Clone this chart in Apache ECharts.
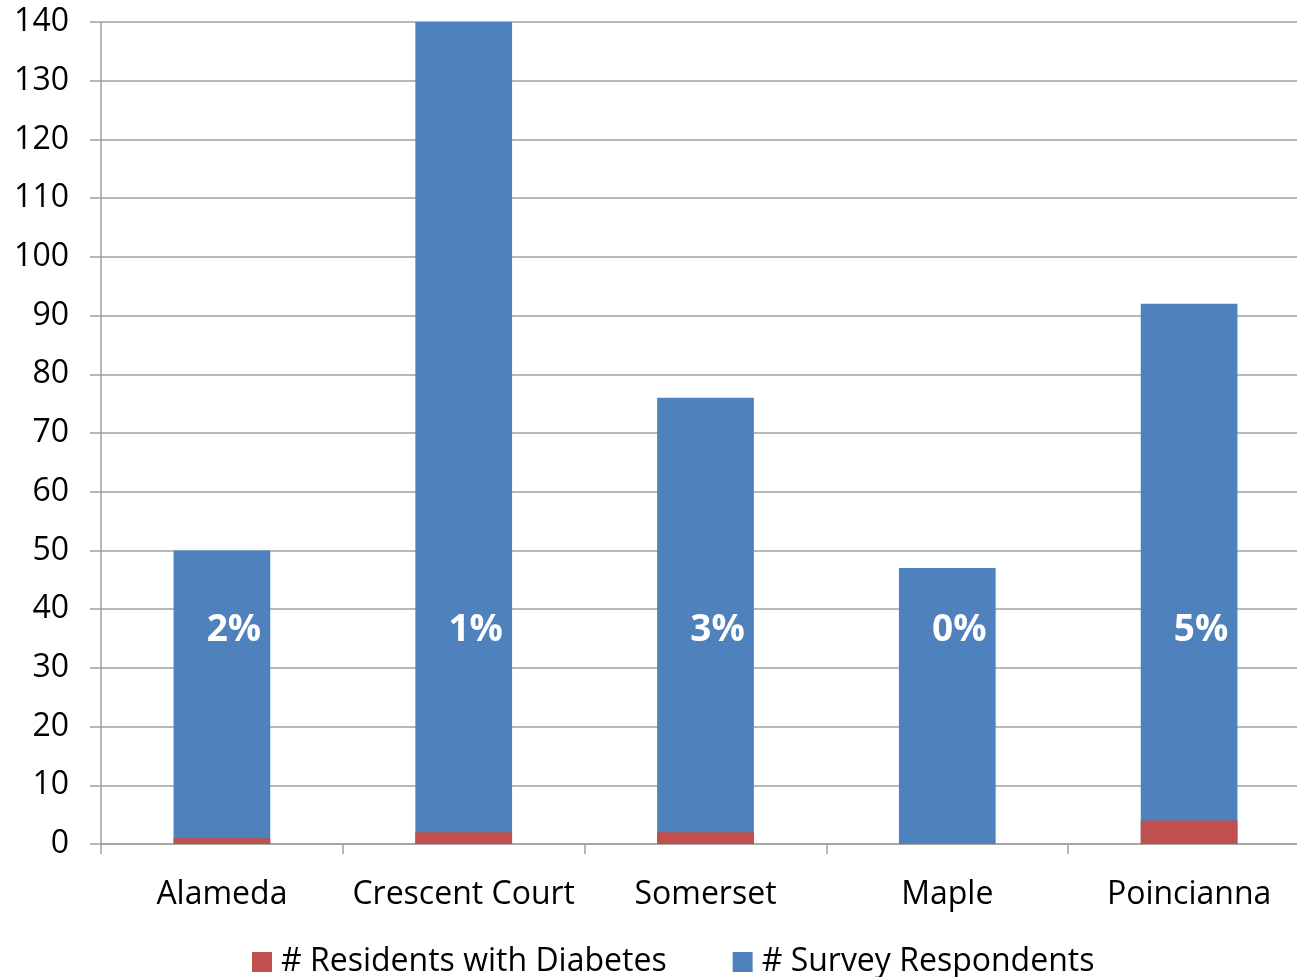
<!DOCTYPE html>
<html>
<head>
<meta charset="utf-8">
<script src="https://cdn.jsdelivr.net/npm/echarts@6/dist/echarts.min.js"></script>
<style>html,body{margin:0;padding:0;background:#fff}#c{width:1297px;height:977px}</style>
</head>
<body>
<div id="c"></div>
<script>
const categories = ['Alameda', 'Crescent Court', 'Somerset', 'Maple', 'Poincianna'];
const respondents = [50, 140, 76, 47, 92];
const diabetes = [1, 2, 2, 0, 4];
const percentLabels = ['2%', '1%', '3%', '0%', '5%'];

const chart = echarts.init(document.getElementById('c'), null, {renderer: 'canvas'});
const font = '"Open Sans", "Liberation Sans", sans-serif';
chart.setOption({
  animation: false,
  textStyle: {fontFamily: font},
  grid: {left: 101, width: 1209, top: 22, bottom: 133, outerBoundsMode: 'none'},
  legend: {
    bottom: -6, left: 247,
    itemWidth: 20, itemHeight: 20, itemGap: 66,
    icon: 'rect',
    textStyle: {fontSize: 32, color: '#000', fontFamily: font, padding: [0, 0, 0, 4]},
    data: ['# Residents with Diabetes', '# Survey Respondents']
  },
  xAxis: {
    type: 'category', data: categories,
    axisLine: {lineStyle: {color: '#a0a0a0', width: 1.5}},
    axisTick: {show: true, interval: 0, length: 10, lineStyle: {color: '#a0a0a0', width: 1.5}},
    axisLabel: {interval: 0, fontSize: 32, color: '#000', margin: 35, fontFamily: font}
  },
  yAxis: {
    type: 'value', min: 0, max: 140, interval: 10,
    axisLine: {show: true, lineStyle: {color: '#a0a0a0', width: 1.5}},
    axisTick: {show: true, length: 11, lineStyle: {color: '#a0a0a0', width: 1.5}},
    splitLine: {lineStyle: {color: '#a0a0a0', width: 1.5}},
    axisLabel: {fontSize: 32, color: '#000', margin: 32, fontFamily: font}
  },
  series: [
    {
      name: '# Residents with Diabetes', type: 'bar', data: diabetes,
      barWidth: '40%', barGap: '-100%', z: 3,
      itemStyle: {color: '#C0504D'},
      label: {
        show: true, position: 'insideBottom', offset: [12, -190],
        formatter: p => percentLabels[p.dataIndex],
        color: '#fff', fontSize: 37, fontWeight: 'bold', fontFamily: font
      }
    },
    {
      name: '# Survey Respondents', type: 'bar', data: respondents,
      barWidth: '40%', z: 2,
      itemStyle: {color: '#4F81BD'}
    }
  ]
});
</script>
</body>
</html>
